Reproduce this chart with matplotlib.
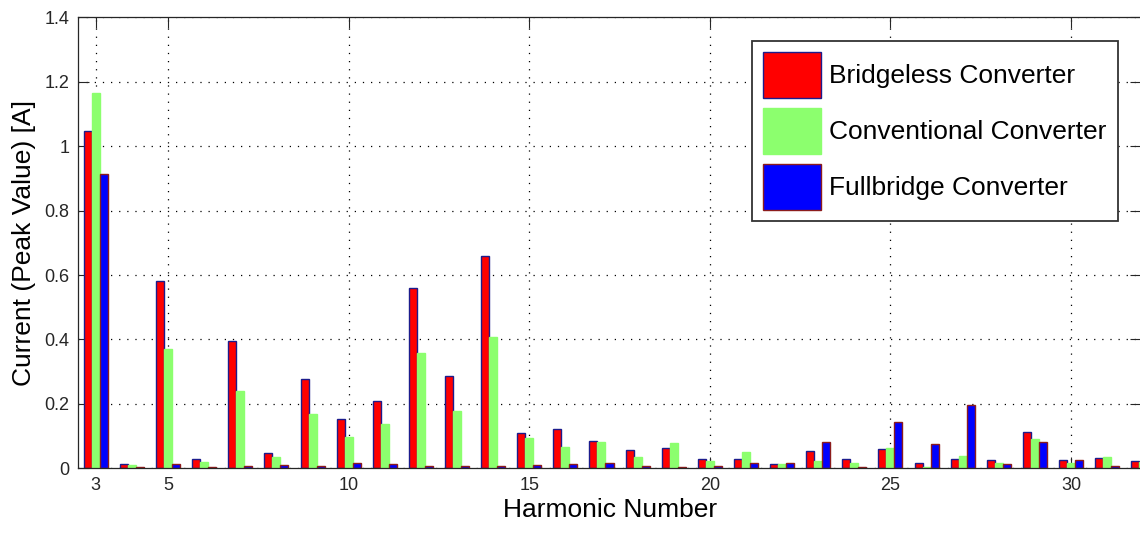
import numpy as np
import matplotlib
matplotlib.use("Agg")
import matplotlib.pyplot as plt

plt.rcParams['font.family'] = ['Liberation Sans', 'DejaVu Sans']

harmonics = list(range(3, 33))
bridgeless = [1.048, 0.013, 0.581, 0.030, 0.394, 0.047, 0.277, 0.152, 0.208, 0.560,
              0.287, 0.659, 0.109, 0.122, 0.084, 0.056, 0.064, 0.030, 0.030, 0.012,
              0.055, 0.030, 0.059, 0.016, 0.030, 0.025, 0.113, 0.025, 0.031, 0.022]
conventional = [1.166, 0.009, 0.369, 0.018, 0.239, 0.035, 0.170, 0.097, 0.136, 0.357,
                0.179, 0.408, 0.093, 0.067, 0.083, 0.034, 0.077, 0.022, 0.052, 0.012,
                0.022, 0.017, 0.064, 0.004, 0.038, 0.017, 0.090, 0.017, 0.034, 0.020]
fullbridge = [0.915, 0.005, 0.014, 0.005, 0.008, 0.009, 0.006, 0.015, 0.013, 0.006,
              0.006, 0.006, 0.010, 0.014, 0.017, 0.008, 0.004, 0.008, 0.016, 0.015,
              0.081, 0.004, 0.145, 0.076, 0.198, 0.012, 0.082, 0.025, 0.008, 0.010]
labels = ['Bridgeless Converter', 'Conventional Converter', 'Fullbridge Converter']
xticks = [3, 5, 10, 15, 20, 25, 30]
yticks = [0, 0.2, 0.4, 0.6, 0.8, 1.0, 1.2, 1.4]
yticklabels = ['0', '0.2', '0.4', '0.6', '0.8', '1', '1.2', '1.4']

fig = plt.figure(figsize=(11.4, 5.33), dpi=100)
ax = fig.add_axes([0.0682, 0.1214, 1.0013 - 0.0682, 0.9675 - 0.1214])

x = np.array(harmonics)
w = 0.222
ax.bar(x - w, bridgeless, w, color='#ff0000', edgecolor='#1c1c8c', linewidth=1.0, label=labels[0], zorder=2)
ax.bar(x, conventional, w, color='#8cff6e', edgecolor='#8cff6e', linewidth=1.0, label=labels[1], zorder=2)
ax.bar(x + w, fullbridge, w, color='#0000ff', edgecolor='#8c1c1c', linewidth=1.0, label=labels[2], zorder=2)

ax.set_xlim(2.5, 31.95)
ax.set_ylim(0, 1.4)
ax.set_xticks(xticks)
ax.set_xticklabels([str(t) for t in xticks])
ax.set_yticks(yticks)
ax.set_yticklabels(yticklabels)

ax.grid(True, color='black', linestyle=(0, (1, 5.5)), linewidth=0.9)
ax.set_axisbelow(True)
ax.tick_params(direction='in', length=8, width=0.8, top=True, right=True,
               labelsize=13, colors='#262626', pad=6)
for s in ax.spines.values():
    s.set_color('#262626')
    s.set_linewidth(0.9)

ax.set_xlabel('Harmonic Number', fontsize=19, labelpad=3)
ax.set_ylabel('Current (Peak Value) [A]', fontsize=19, labelpad=6)

leg = ax.legend(loc='upper right', fontsize=19, handlelength=2.2, handleheight=2.3,
                handletextpad=0.3, labelspacing=0.38, borderpad=0.42,
                borderaxespad=0.9, fancybox=False, framealpha=1)
leg.get_frame().set_edgecolor('#333333')
leg.get_frame().set_linewidth(1.3)

fig.savefig('out.png', dpi=100)
